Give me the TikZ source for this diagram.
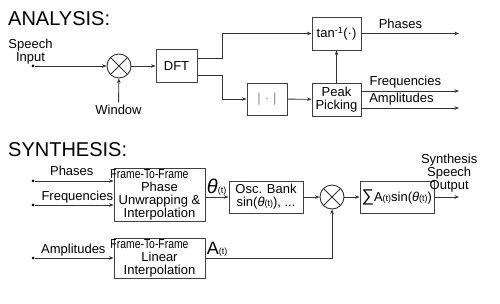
\documentclass[tikz,border=0pt]{standalone}
\usepackage{fontspec}
\setmainfont{Liberation Sans}
\usepackage{graphicx}
\usepackage{tikz}
\usetikzlibrary{arrows.meta,positioning,calc}

\newcommand{\sm}[1]{{\fontsize{9}{9}\selectfont #1}}
\newcommand{\cond}[1]{\scalebox{0.8}[1]{#1}}
\newcommand{\thet}{\textit{θ}}

\begin{document}
\begin{tikzpicture}[
  x=1pt, y=-1pt,
  font=\fontsize{13}{13}\selectfont,
  line/.style={draw=black!80, line width=0.9pt},
  arr/.style={line, -{Stealth[length=4.5pt,width=3.5pt]}},
  blk/.style={rectangle, draw=black!75, line width=0.9pt, inner sep=0pt, align=center},
  mult/.style={circle, draw=black!80, line width=0.9pt, minimum size=24pt, inner sep=0pt},
  dot/.style={circle, fill=black, inner sep=0pt, minimum size=3pt},
  lbl/.style={anchor=base, inner sep=0pt},
  title/.style={anchor=base west, inner sep=0pt, font=\fontsize{20}{20}\selectfont}
]
  \useasboundingbox (0,0) rectangle (500,304);

  % analysis
  \node[title] (ana) at (8,26) {ANALYSIS:};
  \node[align=center, inner sep=0pt] (speech) at (30.5,52) {Speech\\Input};
  \node[dot] (sin) at (33,66) {};
  \node[mult] (m1) at (119,66) {};
  \draw[line] (m1.north east) -- (m1.south west) (m1.north west) -- (m1.south east);
  \node[anchor=base, inner sep=3pt] (win) at (118.5,115) {Window};
  \node[blk, minimum width=41pt, minimum height=33pt] (dft) at (176.5,66) {DFT};
  \node[blk, minimum width=40pt, minimum height=32pt] (abs) at (267,99)
    {\color{black!45}|\hspace{4pt}·\hspace{4pt}|};
  \node[blk, minimum width=49pt, minimum height=33pt] (peak) at (336.5,99.5) {Peak\\Picking};
  \node[blk, minimum width=49pt, minimum height=33pt] (tan) at (336.5,33.5) {tan\textsuperscript{-1}(·)};
  \coordinate (phout) at (459,33.5);
  \coordinate (frout) at (459,91);
  \coordinate (amout) at (459,108);

  \draw[arr] (sin) -- (m1);
  \draw[arr] (win) -- (m1);
  \draw[arr] (m1) -- (dft);
  \draw[arr] ([yshift=8pt]dft.east) -- ++(25,0) |- (tan.west);
  \draw[arr] ([yshift=-9pt]dft.east) -- ++(25,0) |- (abs.west);
  \draw[arr] (abs) -- (peak);
  \draw[arr] (peak) -- (tan);
  \draw[arr] (tan.east) -- node[lbl, pos=0.4, yshift=5pt] {Phases} (phout);
  \draw[arr] (peak.east |- frout) -- node[lbl, pos=0.45, yshift=5pt] {Frequencies} (frout);
  \draw[arr] (peak.east |- amout) -- node[lbl, pos=0.41, yshift=5pt] {Amplitudes} (amout);

  % synthesis
  \node[title] (syn) at (8,157) {SYNTHESIS:};
  \node[blk, minimum width=91pt, minimum height=53pt] (unwrap) at (159.5,194.5)
    {\hspace*{-20pt}\cond{Frame-To-Frame}\\Phase\\Unwrapping \&\\Interpolation};
  \node[blk, minimum width=91pt, minimum height=40pt] (linint) at (159.5,258)
    {\hspace*{-20pt}\cond{Frame-To-Frame}\\Linear\\Interpolation};
  \node[blk, minimum width=74pt, minimum height=32pt] (osc) at (266,197)
    {Osc. Bank\\sin(\thet\sm{(t)}), ...};
  \node[mult] (m2) at (332,197) {};
  \draw[line] (m2.north east) -- (m2.south west) (m2.north west) -- (m2.south east);
  \node[blk, minimum width=74pt, minimum height=32pt] (sum) at (397,197)
    {{\fontsize{17}{17}\selectfont ∑}A\sm{(t)}sin(\thet\sm{(t)})};
  \node[dot] (phin) at (33,181) {};
  \node[dot] (frin) at (33,205) {};
  \node[dot] (amin) at (33,258) {};
  \coordinate (spout) at (459,197);

  \draw[arr] (phin) -- node[lbl, pos=0.47, yshift=5pt] {Phases} (phin -| unwrap.west);
  \draw[arr] (frin) -- node[lbl, pos=0.54, yshift=4pt] {Frequencies} (frin -| unwrap.west);
  \draw[arr] (amin) -- node[lbl, pos=0.49, yshift=4pt] {Amplitudes} (linint);
  \draw[arr] (unwrap.east |- osc.west) --
    node[pos=0, above right, inner sep=1pt] {{\fontsize{20}{20}\selectfont\thet}\sm{(t)}} (osc);
  \draw[arr] (osc) -- (m2);
  \draw[arr] (m2) -- (sum);
  \draw[arr] (linint.east) --
    node[pos=0, above right, inner sep=1pt] {{\fontsize{18}{18}\selectfont A}\sm{(t)}} (linint.east -| m2) -- (m2);
  \draw[arr] (sum) -- node[pos=0.6, anchor=south, align=center, inner sep=0pt, yshift=4pt] {Synthesis\\Speech\\Output} (spout);
\end{tikzpicture}
\end{document}
